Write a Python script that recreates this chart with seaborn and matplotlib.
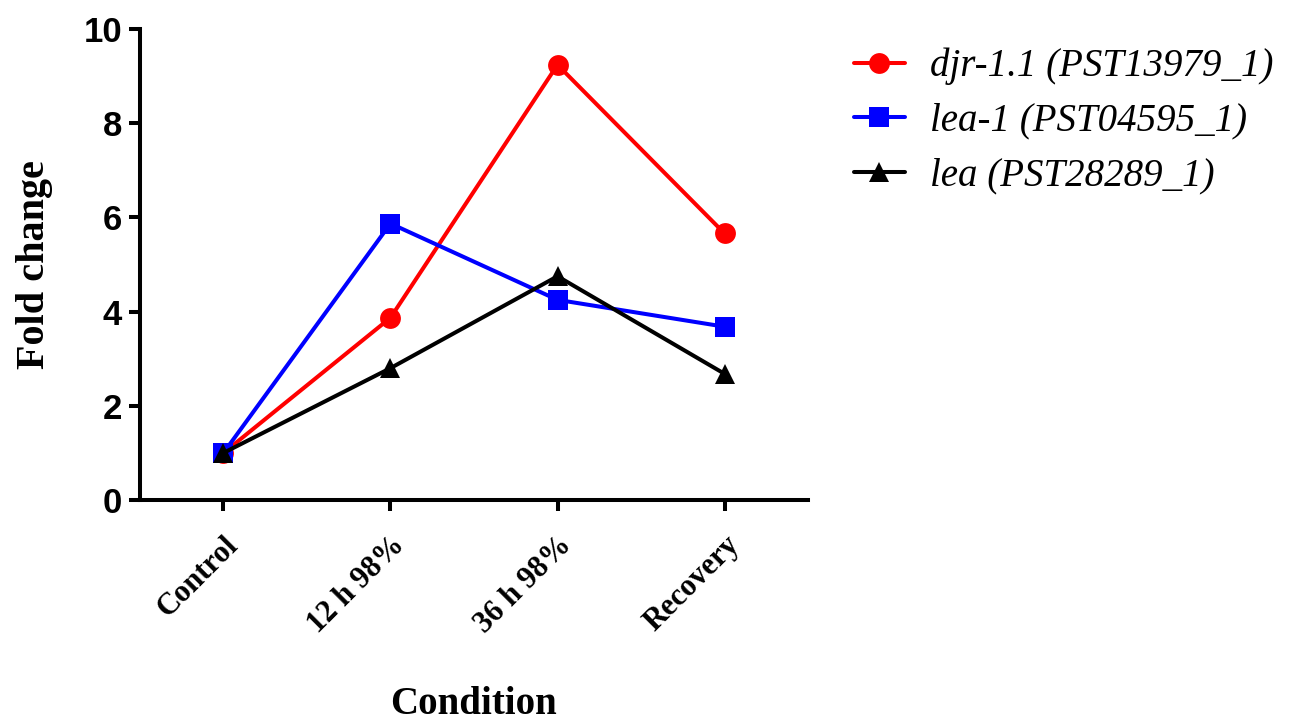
import matplotlib
matplotlib.use("Agg")
import matplotlib.pyplot as plt
import seaborn as sns
import pandas as pd
from matplotlib.font_manager import FontProperties

conditions = ["Control", "12 h 98%", "36 h 98%", "Recovery"]
genes = ["djr-1.1 (PST13979_1)", "lea-1 (PST04595_1)", "lea (PST28289_1)"]
djr = [1.0, 3.87, 9.24, 5.66]
lea1 = [1.0, 5.87, 4.25, 3.68]
lea = [1.0, 2.80, 4.75, 2.68]
colors = ["#ff0000", "#0000ff", "#000000"]
markers = ["o", "s", "^"]

rows = []
for g, vals in zip(genes, [djr, lea1, lea]):
    for c, v in zip(conditions, vals):
        rows.append({"Condition": c, "Fold change": v, "Gene": g})
df = pd.DataFrame(rows)

sns.set_theme(style="ticks")
plt.rcParams['font.family'] = ['Liberation Serif', 'DejaVu Sans']
plt.rcParams['text.color'] = 'black'
plt.rcParams['axes.labelcolor'] = 'black'
plt.rcParams['xtick.color'] = 'black'
plt.rcParams['ytick.color'] = 'black'

fig = plt.figure(figsize=(12.91, 7.25), dpi=100)
ax = fig.add_axes([0.1084, 0.3103, 0.5175, 0.6497])

sns.lineplot(data=df, x="Condition", y="Fold change", hue="Gene", style="Gene",
             hue_order=genes, style_order=genes,
             palette=dict(zip(genes, colors)), markers=dict(zip(genes, markers)),
             dashes=False, linewidth=2.9, markersize=15, markeredgewidth=0,
             ax=ax, sort=False)

ax.set_xlim(-0.5, 3.5)
ax.set_ylim(0, 10)
ax.set_yticks([0, 2, 4, 6, 8, 10])
for s in ["top", "right"]:
    ax.spines[s].set_visible(False)
for s in ["left", "bottom"]:
    ax.spines[s].set_linewidth(2.9)
    ax.spines[s].set_color("black")
ax.tick_params(axis="both", length=8, width=2.9, color="black")
ax.tick_params(axis="x", pad=14)
ax.tick_params(axis="y", pad=5)

ylab_font = FontProperties(family="Liberation Sans", weight="bold", size=25)
for t in ax.get_yticklabels():
    t.set_fontproperties(ylab_font)
    t.set_color("black")
xfont = FontProperties(family="Liberation Serif", weight="bold", size=22)
ax.set_xticks(range(len(conditions)))
ax.set_xticklabels(conditions, rotation=45, ha="right", va="top",
                   rotation_mode="anchor", fontproperties=xfont, color="black")

ax.set_xlabel("Condition", fontproperties=FontProperties(family="Liberation Serif", weight="bold", size=28),
              labelpad=34, color="black")
ax.set_ylabel("Fold change", fontproperties=FontProperties(family="Liberation Serif", weight="bold", size=29),
              labelpad=22, color="black")

handles, labels = ax.get_legend_handles_labels()
if ax.legend_:
    ax.legend_.remove()
leg = fig.legend(handles, labels, loc="upper left", bbox_to_anchor=(0.6615, 0.934),
                 frameon=False, prop=FontProperties(family="Liberation Serif", style="italic", size=28),
                 handlelength=1.3, labelspacing=0.45, handletextpad=0.65, borderpad=0,
                 borderaxespad=0)
for t in leg.get_texts():
    t.set_color("black")

fig.savefig("out.png", dpi=100)
